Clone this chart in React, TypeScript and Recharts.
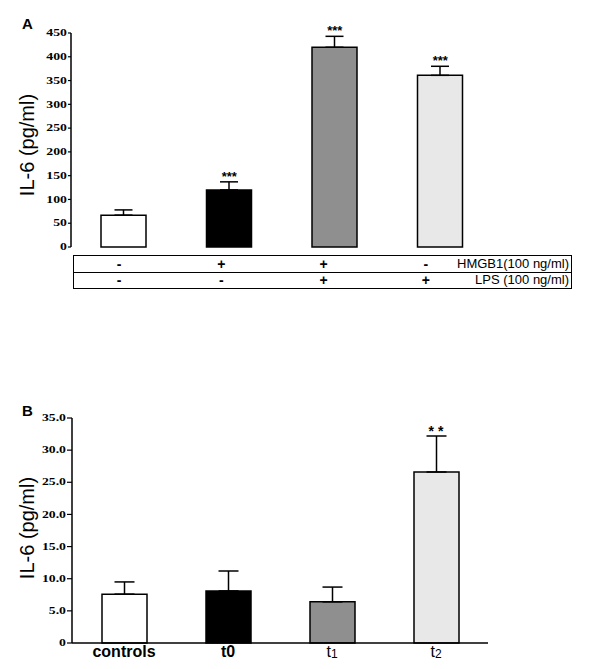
import { BarChart, Bar, XAxis, YAxis, Cell, ErrorBar, ReferenceDot } from "recharts";

// panel A: IL-6 after HMGB1 / LPS stimulation
const groupsA = ["g1", "g2", "g3", "g4"];
const meanA = [67, 120, 420, 361];
const errA = [11, 17, 23, 19];
const sigA = ["", "***", "***", "***"];
const ticksA = [0, 50, 100, 150, 200, 250, 300, 350, 400, 450];
const hmgb1Row = ["-", "+", "+", "-"];
const lpsRow = ["-", "-", "+", "+"];

// panel B: IL-6 over time
const groupsB = ["controls", "t0", "t1", "t2"];
const meanB = [7.6, 8.1, 6.4, 26.6];
const errB = [1.9, 3.1, 2.3, 5.6];
const sigB = ["", "", "", "* *"];
const ticksB = [0, 5, 10, 15, 20, 25, 30, 35];

const fills = ["#ffffff", "#000000", "#8f8f8f", "#e8e8e8"];

const dataA = groupsA.map((g, i) => ({ name: g, value: meanA[i], err: [0, errA[i]] }));
const dataB = groupsB.map((g, i) => ({ name: g, value: meanB[i], err: [0, errB[i]] }));

const SerifTick = (props: any) => {
  const { x, y, payload, decimals } = props;
  const v = payload.value;
  const label = v === 0 ? "0" : v.toFixed(decimals);
  return (
    <text
      transform={`translate(${x},${y}) scale(1.45,1)`}
      textAnchor="end"
      dominantBaseline="central"
      fontFamily="'Liberation Serif', serif"
      fontWeight="bold"
      fontSize={9.5}
      fill="#000"
    >
      {label}
    </text>
  );
};

const TimeTick = (props: any) => {
  const { x, y, payload } = props;
  const v = String(payload.value);
  const m = /^t([12])$/.exec(v);
  return (
    <text
      x={x}
      y={y + 12}
      textAnchor="middle"
      fontFamily="'Liberation Sans', Arial"
      fontWeight={m ? "normal" : "bold"}
      fontSize={16}
      fill="#000"
    >
      {m ? (
        <>
          <tspan>t</tspan>
          <tspan fontSize={12} dy={1}>{m[1]}</tspan>
        </>
      ) : (
        v
      )}
    </text>
  );
};

const yTitle = (left: number, top: number) => (
  <div
    style={{
      position: "absolute",
      left,
      top,
      transform: "translate(-50%, -50%) rotate(-90deg)",
      whiteSpace: "nowrap",
      fontFamily: "'Liberation Sans', Arial, sans-serif",
      fontSize: 20,
      lineHeight: 1,
      color: "#000",
    }}
  >
    IL-6 (pg/ml)
  </div>
);

const panelLetter = (letter: string, left: number, top: number) => (
  <div
    style={{
      position: "absolute",
      left,
      top,
      fontFamily: "'Liberation Sans', Arial, sans-serif",
      fontWeight: "bold",
      fontSize: 15,
      lineHeight: 1,
    }}
  >
    {letter}
  </div>
);

const cellText: React.CSSProperties = {
  position: "absolute",
  transform: "translateX(-50%)",
  fontFamily: "'Liberation Sans', Arial, sans-serif",
  fontWeight: "bold",
  fontSize: 14,
  lineHeight: "16px",
};

const rowLabel: React.CSSProperties = {
  position: "absolute",
  right: 2,
  fontFamily: "'Liberation Sans', Arial, sans-serif",
  fontSize: 13,
  lineHeight: "16px",
};

export default function App() {
  return (
    <div style={{ position: "absolute", left: 0, top: 0, width: 600, height: 669, background: "#fff", overflow: "hidden" }}>
      {panelLetter("A", 22, 16)}
      {yTitle(27, 145)}
      <div style={{ position: "absolute", left: 0, top: 0 }}>
        <BarChart width={600} height={260} data={dataA} margin={{ top: 33, right: 107, bottom: 13, left: 0 }}>
          <XAxis dataKey="name" tick={false} tickLine={false} height={0} axisLine={{ stroke: "#000", strokeWidth: 1.5 }} />
          <YAxis
            width={71}
            domain={[0, 450]}
            ticks={ticksA}
            interval={0}
            tickSize={3}
            tickMargin={1}
            axisLine={{ stroke: "#000", strokeWidth: 1.5 }}
            tickLine={{ stroke: "#000", strokeWidth: 1.2 }}
            tick={(p: any) => <SerifTick {...p} decimals={0} />}
          />
          <Bar dataKey="value" barSize={45} stroke="#000" strokeWidth={1.5} isAnimationActive={false}>
            {dataA.map((d, i) => (
              <Cell key={d.name} fill={fills[i]} />
            ))}
            <ErrorBar dataKey="err" direction="y" width={9} stroke="#000" strokeWidth={1.5} isAnimationActive={false} />
          </Bar>
          {dataA.map((d, i) =>
            sigA[i] ? (
              <ReferenceDot
                key={d.name}
                x={d.name}
                y={meanA[i] + errA[i]}
                r={0}
                stroke="none"
                label={{ value: sigA[i], position: "top", offset: 1, fontSize: 13, fontWeight: "bold", fill: "#000", fontFamily: "'Liberation Sans', Arial" }}
              />
            ) : null
          )}
        </BarChart>
      </div>

      {/* treatment table under panel A */}
      <div style={{ position: "absolute", left: 73, top: 255, width: 497, height: 32, border: "1px solid #000" }}>
        <div style={{ position: "absolute", left: 0, right: 0, top: 16, borderTop: "1px solid #000" }} />
        {hmgb1Row.map((s, i) => (
          <span key={"h" + i} style={{ ...cellText, left: 45 + i * 102.3, top: 0 }}>{s}</span>
        ))}
        {lpsRow.map((s, i) => (
          <span key={"l" + i} style={{ ...cellText, left: 45 + i * 102.3, top: 16 }}>{s}</span>
        ))}
        <span style={{ ...rowLabel, top: 0 }}>HMGB1(100 ng/ml)</span>
        <span style={{ ...rowLabel, top: 16 }}>LPS (100 ng/ml)</span>
      </div>

      {panelLetter("B", 22, 403)}
      {yTitle(27, 528)}
      <div style={{ position: "absolute", left: 0, top: 380 }}>
        <BarChart width={600} height={289} data={dataB} margin={{ top: 38, right: 112, bottom: 0, left: 0 }}>
          <XAxis
            dataKey="name"
            height={26}
            tickLine={false}
            tickSize={0}
            interval={0}
            axisLine={{ stroke: "#000", strokeWidth: 1.5 }}
            tick={(p: any) => <TimeTick {...p} />}
          />
          <YAxis
            width={72}
            domain={[0, 35]}
            ticks={ticksB}
            interval={0}
            tickSize={5}
            tickMargin={1}
            axisLine={{ stroke: "#000", strokeWidth: 1.5 }}
            tickLine={{ stroke: "#000", strokeWidth: 1.2 }}
            tick={(p: any) => <SerifTick {...p} decimals={1} />}
          />
          <Bar dataKey="value" barSize={45} stroke="#000" strokeWidth={1.5} isAnimationActive={false}>
            {dataB.map((d, i) => (
              <Cell key={d.name} fill={fills[i]} />
            ))}
            <ErrorBar dataKey="err" direction="y" width={10} stroke="#000" strokeWidth={1.5} isAnimationActive={false} />
          </Bar>
          {dataB.map((d, i) =>
            sigB[i] ? (
              <ReferenceDot
                key={d.name}
                x={d.name}
                y={meanB[i] + errB[i]}
                r={0}
                stroke="none"
                label={{ value: sigB[i], position: "top", offset: 0, fontSize: 14, fontWeight: "bold", fill: "#000", fontFamily: "'Liberation Sans', Arial" }}
              />
            ) : null
          )}
        </BarChart>
      </div>
    </div>
  );
}
